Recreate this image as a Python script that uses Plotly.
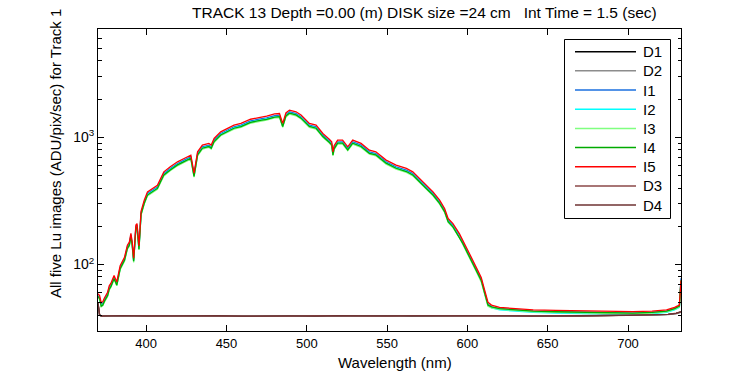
import plotly.graph_objects as go

# ---------------- data ----------------
wavelength = [370, 371, 372, 373, 374, 376, 377, 378, 380, 381.7, 383.8, 386.5, 388.3, 389.5, 390.5,
              391.3, 392.2, 393.6, 394.3, 395.5, 396.8, 398.8, 400.8, 404, 407, 409, 411, 415, 419.5,
              423.6, 427.8, 429.8, 432, 435, 439, 440.5, 442.3, 446.4, 450.7, 454.7, 459, 465, 471, 475,
              480, 483, 485, 487, 489.2, 491.5, 493.3, 496.4, 499.5, 501.6, 505.8, 510, 514, 515.5, 516.3,
              517, 519.2, 522.3, 525.5, 528.6, 533.8, 539, 543, 549.4, 555.6, 562, 566, 570.3, 574.4,
              578.6, 582.7, 585.8, 588, 591, 595, 597.2, 601.4, 605.5, 608.6, 610.7, 612.8, 615, 620, 630,
              641, 655, 672, 690, 703, 715, 724, 729, 732, 733]

I5 = [59, 57, 50, 51, 54.5, 60.5, 68, 71, 82, 73, 98, 114, 142, 150, 176,
      150, 112, 205, 210, 140, 262, 321, 373, 397, 420, 476, 536, 587, 643,
      683, 726, 523, 770, 870, 897, 870, 982, 1107, 1177, 1250, 1289, 1390, 1440, 1470,
      1530, 1542, 1289, 1560, 1640, 1620, 1590, 1500, 1380, 1290, 1250, 1075, 970, 924, 770,
      860, 953, 953, 844, 953, 897, 794, 770, 663, 605, 570, 536, 476, 420,
      373, 321, 276, 230, 210, 175, 155, 121, 95, 79, 63, 50.5, 48, 46, 45,
      44, 43.5, 43, 42.5, 42.6, 43, 44, 46, 48, 75]

I1 = [57, 55, 48.5, 49.5, 53, 59, 66, 69, 79.5, 71, 95, 110.5, 138, 145.5, 171,
      145.5, 108.5, 199, 204, 136, 254, 311, 362, 385, 407, 462, 520, 569, 624,
      663, 704, 507, 747, 844, 870, 844, 953, 1074, 1142, 1213, 1250, 1348, 1397, 1426,
      1484, 1496, 1250, 1513, 1591, 1571, 1542, 1455, 1339, 1251, 1213, 1043, 941, 896, 747,
      834, 924, 924, 819, 924, 870, 770, 747, 643, 587, 553, 520, 462, 407,
      362, 311, 268, 223, 204, 170, 150, 117, 92, 77, 61, 49, 46.5, 45, 44,
      43, 42.5, 42, 41.5, 41.5, 42, 43, 45, 47, 78]

I2 = [56, 54, 47.5, 48.5, 52, 57.5, 64.5, 67.5, 78, 69, 93, 108, 135, 142.5, 167,
      142.5, 106, 195, 200, 133, 249, 305, 354, 377, 399, 452, 509, 558, 611,
      649, 690, 497, 732, 827, 852, 827, 933, 1052, 1118, 1188, 1225, 1321, 1368, 1397,
      1454, 1465, 1225, 1482, 1558, 1539, 1511, 1425, 1311, 1226, 1188, 1021, 922, 878, 732,
      817, 905, 905, 802, 905, 852, 754, 732, 630, 575, 542, 509, 452, 399,
      354, 305, 262, 219, 200, 166, 147, 115, 90, 75, 60, 48, 45.5, 44, 43,
      42, 41.5, 41, 40.5, 40.5, 41, 42, 44, 46, 75]

I3 = [55, 53, 46.5, 47.5, 50.5, 56, 63, 66, 76, 68, 91, 106, 132, 139.5, 164,
      139.5, 104, 191, 195, 130, 244, 299, 347, 369, 391, 443, 498, 546, 598,
      635, 675, 486, 716, 809, 834, 809, 913, 1030, 1095, 1163, 1199, 1293, 1339, 1367,
      1423, 1434, 1199, 1451, 1525, 1507, 1479, 1395, 1283, 1200, 1163, 1000, 902, 859, 716,
      800, 886, 886, 785, 886, 834, 738, 716, 617, 563, 530, 498, 443, 391,
      347, 299, 257, 214, 195, 163, 144, 113, 88, 73, 59, 47, 45.5, 44.5, 43.5,
      42.5, 42, 41.5, 41, 41, 41.5, 42.5, 44.5, 46.5, 75]

I4 = [56, 54, 47, 48, 51.5, 57, 64, 67, 77.5, 69, 92.5, 108, 134, 142, 166,
      142, 106, 194, 198, 132, 248, 303, 352, 375, 397, 450, 506, 555, 608,
      645, 686, 494, 728, 822, 848, 822, 928, 1046, 1112, 1181, 1218, 1314, 1361, 1389,
      1446, 1457, 1218, 1474, 1550, 1531, 1503, 1418, 1304, 1219, 1181, 1016, 917, 873, 728,
      813, 901, 901, 798, 901, 848, 750, 728, 627, 572, 539, 506, 450, 397,
      352, 303, 261, 217, 198, 165, 146, 114, 90, 75, 60, 48, 46.5, 45, 44,
      43, 42.5, 42, 41.5, 41.5, 42, 43, 45, 47, 75]

dark_wavelength = [370, 371, 372, 385, 400, 415, 430, 445, 460, 475, 490, 505, 520, 535, 550,
                   565, 580, 595, 610, 625, 640, 655, 670, 685, 700, 715, 725, 730, 733]
D1 = [49, 40, 39.4, 39.5, 39.3, 39.6, 39.4, 39.5, 39.3, 39.6, 39.4, 39.3, 39.5, 39.4, 39.6,
      39.3, 39.5, 39.4, 39.6, 39.4, 39.3, 39.5, 39.4, 39.6, 39.7, 40.1, 40.5, 41.2, 42.3]
D2 = [48, 39.8, 39.3, 39.4, 39.5, 39.3, 39.5, 39.4, 39.6, 39.3, 39.5, 39.4, 39.3, 39.6, 39.4,
      39.5, 39.3, 39.6, 39.4, 39.5, 39.6, 39.3, 39.5, 39.4, 39.8, 40.0, 40.4, 41.0, 42.0]
D3 = [50, 40.2, 39.5, 39.3, 39.6, 39.4, 39.3, 39.6, 39.5, 39.4, 39.3, 39.6, 39.4, 39.5, 39.3,
      39.6, 39.4, 39.3, 39.5, 39.6, 39.4, 39.5, 39.3, 39.7, 39.9, 40.3, 40.6, 41.4, 42.6]
D4 = [50, 40, 39.3, 39.6, 39.2, 39.5, 39.4, 39.6, 39.3, 39.5, 39.4, 39.2, 39.6, 39.4, 39.5,
      39.3, 39.4, 39.6, 39.4, 39.5, 39.3, 39.6, 39.4, 39.7, 39.8, 40.2, 40.6, 41.3, 42.5]

series_names = ["D1", "D2", "I1", "I2", "I3", "I4", "I5", "D3", "D4"]
series_colors = ["#000000", "#8c8c8c", "#1a6fdf", "#00ffff", "#80ff80",
                 "#00aa00", "#ff0000", "#8b4848", "#6e3232"]

x_tick_vals = [400, 450, 500, 550, 600, 650, 700]
y_tick_vals = [100, 1000]
y_tick_text = ["10<sup>2</sup>", "10<sup>3</sup>"]
y_minor_vals = [30, 40, 50, 60, 70, 80, 90, 200, 300, 400, 500, 600, 700, 800, 900,
                2000, 3000, 4000, 5000, 6000, 7000]

title_text = "TRACK 13 Depth =0.00 (m) DISK size =24 cm   Int Time = 1.5 (sec)"
x_label = "Wavelength (nm)"
y_label = "All five Lu images (ADU/pix/sec) for Track 1"

# ---------------- figure ----------------
FONT = "Liberation Sans, Arial, Helvetica, sans-serif"
data_map = {"D1": (dark_wavelength, D1), "D2": (dark_wavelength, D2),
            "I1": (wavelength, I1), "I2": (wavelength, I2), "I3": (wavelength, I3),
            "I4": (wavelength, I4), "I5": (wavelength, I5),
            "D3": (dark_wavelength, D3), "D4": (dark_wavelength, D4)}

fig = go.Figure()
for name, color in zip(series_names, series_colors):
    xs, ys = data_map[name]
    fig.add_trace(go.Scatter(x=xs, y=ys, mode="lines", name=name, showlegend=False,
                             line=dict(color=color, width=1.3)))

L, R, T, B = 98, 69, 29, 44
W, H = 750, 375
pw, ph = W - L - R, H - T - B


def px(xp):
    return (xp - L) / pw


def py(yp):
    return 1 - (yp - T) / ph


# legend drawn as a framed box of sample lines + real text labels
shapes = [dict(type="rect", xref="paper", yref="paper", x0=px(564.5), x1=px(670.5),
               y0=py(218.5), y1=py(39.5), line=dict(color="black", width=1),
               fillcolor="white", layer="above")]
annotations = []
for i, (name, color) in enumerate(zip(series_names, series_colors)):
    yy = py(51.7 + i * 19.17)
    shapes.append(dict(type="line", xref="paper", yref="paper", x0=px(575), x1=px(636),
                       y0=yy, y1=yy, line=dict(color=color, width=1.5), layer="above"))
    annotations.append(dict(text=name, x=px(641), y=yy, xref="paper", yref="paper",
                            xanchor="left", yanchor="middle", showarrow=False,
                            font=dict(family=FONT, size=15)))

annotations += [
    dict(text=title_text, x=px(424.5), y=py(13), xref="paper", yref="paper",
         xanchor="center", yanchor="middle", showarrow=False,
         font=dict(family=FONT, size=15.5)),
    dict(text=x_label, x=px(395), y=py(362), xref="paper", yref="paper",
         xanchor="center", yanchor="middle", showarrow=False,
         font=dict(family=FONT, size=15)),
    dict(text=y_label, x=px(55), y=py(154), xref="paper", yref="paper",
         xanchor="center", yanchor="middle", showarrow=False, textangle=-90,
         font=dict(family=FONT, size=15)),
]

fig.update_layout(
    width=W, height=H,
    margin=dict(l=L, r=R, t=T, b=B, pad=0, autoexpand=False),
    paper_bgcolor="white", plot_bgcolor="white",
    font=dict(family=FONT, color="black", size=13),
    showlegend=False,
    xaxis=dict(range=[370, 733], tickvals=x_tick_vals, ticks="inside", ticklen=6,
               tickcolor="black", showline=True, linecolor="black", linewidth=1,
               mirror="ticks", showgrid=False, zeroline=False, automargin=False,
               tickfont=dict(family=FONT, size=13)),
    yaxis=dict(type="log", range=[1.477, 3.853], tickvals=y_tick_vals, ticktext=y_tick_text,
               ticks="inside", ticklen=6, tickcolor="black", showline=True,
               linecolor="black", linewidth=1, mirror="ticks", showgrid=False,
               zeroline=False, automargin=False, tickfont=dict(family=FONT, size=14),
               minor=dict(tickvals=y_minor_vals, ticks="inside", ticklen=3.5,
                          tickcolor="black", showgrid=False)),
    shapes=shapes,
    annotations=annotations,
)

fig.write_html("out.html", config={"displayModeBar": False},
               post_script="document.body.style.margin='0';document.body.style.overflow='hidden';")
